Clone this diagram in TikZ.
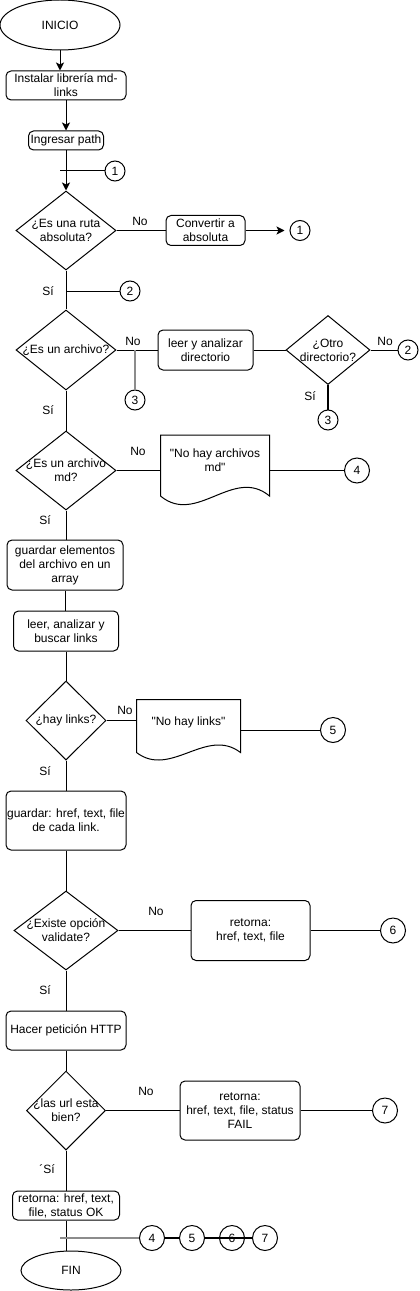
\documentclass[tikz,border=0pt]{standalone}
\usepackage{fontspec}
\setmainfont{Liberation Sans}[Ligatures=TeXOff]
\usepackage{tikz}
\usetikzlibrary{calc,shapes.geometric,arrows.meta}
\def\docwave(#1)(#2:#3:#4){\draw (#1.north west) -- (#1.north east) -- ($(#1.south east)+(0,-#2)$) .. controls ($(#1.south east)+(-#4,-#2-#3)$) and ($(#1.south west)+(#4,-#2+#3)$) .. ($(#1.south west)+(0,-#2)$) -- cycle;}

\begin{document}
\begin{tikzpicture}[x=0.75pt,y=-0.75pt,
		font=\fontsize{9}{10.5}\selectfont,
		line width=0.75pt,
		term/.style={ellipse,draw,inner sep=0pt},
		proc/.style={rectangle,rounded corners=3.75pt,draw,align=center,inner sep=0pt},
		decision/.style={diamond,draw,inner sep=0pt},
		conn/.style={circle,draw,fill=white,inner sep=0pt},
		docbox/.style={rectangle,inner sep=0pt},
		flow/.style={-{Stealth[length=6pt,width=6pt,inset=1.5pt]}},
		greyline/.style={draw=black!45,line width=1.5pt},
		boldline/.style={line width=1.5pt}]
			%%%%% START %%%%%
			
			\useasboundingbox (0,0) rectangle (420,1291);
			
			\node[term, minimum width=90pt, minimum height=37.5pt] (inicio) at (60,25) {INICIO};
			\node[proc, minimum width=90pt, minimum height=21.75pt] (instalar) at (66,85.5) {Instalar librería md-\\links};
			\node[proc, minimum width=56.25pt, minimum height=14.25pt] (ingresar) at (66,140.5) {Ingresar path};
			\coordinate (k1) at (60,171);
			\node[conn, minimum size=15pt] (c1a) at (115,171) {1};
			
			\node[decision, minimum width=75pt, minimum height=59.25pt, label={[align=center]center:¿Es una ruta\\absoluta?}] (q1) at (66,230.5) {};
			\node (no1) at (140,221) {No};
			\node[proc, minimum width=59.25pt, minimum height=22.5pt] (conv) at (205.5,230.5) {Convertir a\\absoluta};
			\node[conn, minimum size=15pt] (c1b) at (300,230.5) {1};
			
			\node (si1) at (48,291) {Sí};
			\coordinate (k2) at (66,291);
			\node[conn, minimum size=15pt] (c2a) at (130,291) {2};
			
			\node[decision, minimum width=75pt, minimum height=60pt, label={[align=center]center:¿Es un archivo?}] (q2) at (66,350) {};
			\node (no2) at (133,341) {No};
			\coordinate (k3) at (135,350);
			\node[conn, minimum size=15pt] (c3a) at (135,400) {3};
			\node[proc, minimum width=71.25pt, minimum height=30pt] (dir) at (205.5,350) {leer y analizar\\directorio};
			\node[decision, minimum width=63pt, minimum height=51.75pt, label={[align=center]center:¿Otro\\directorio?}] (q3) at (328,350) {};
			\node (no3) at (385,341) {No};
			\node[conn, minimum size=15pt] (c2b) at (408,350) {2};
			\node (si3) at (310,396) {Sí};
			\node[conn, minimum size=15pt] (c3b) at (328,420) {3};
			
			\node (si2) at (48,410) {Sí};
			\node[decision, minimum width=75pt, minimum height=59.25pt, label={[align=center]center:¿Es un archivo\\md?}] (q4) at (66,470.5) {};
			\node (no4) at (138,451) {No};
			\node[docbox, minimum width=81pt, minimum height=52.5pt, label={[align=center,yshift=7.5pt]center:"No hay archivos\\md"}] (nodoc) at (215,470.5) {};
			\node[conn, minimum size=18.75pt] (c4a) at (357,470.5) {4};
			
			\node (si4) at (45,520) {Sí};
			\node[proc, minimum width=87pt, minimum height=37.5pt] (guardar) at (65,565) {guardar elementos\\del archivo en un\\array};
			\node[proc, minimum width=78.75pt, minimum height=30pt] (buscar) at (66,631) {leer, analizar y\\buscar links};
			
			\node[decision, minimum width=60pt, minimum height=59.25pt, label={[align=center]center:¿hay links?}] (q5) at (66,720.5) {};
			\node (no5) at (125,710) {No};
			\node[docbox, minimum width=77.25pt, minimum height=45pt, label={[align=center,yshift=6pt]center:"No hay links"}] (linkdoc) at (188.5,730) {};
			\node[conn, minimum size=18.75pt] (c5a) at (333,730) {5};
			
			\node (si5) at (45,771) {Sí};
			\node[proc, minimum width=90pt, minimum height=44.25pt] (guardarlk) at (66,820.5) {guardar: href, text, file\\de cada link.};
			
			\node[decision, minimum width=78pt, minimum height=59.25pt, label={[align=center]center:¿Existe opción\\validate?}] (q6) at (66,930.5) {};
			\node (no6) at (156,911) {No};
			\node[proc, minimum width=89.25pt, minimum height=45pt] (ret1) at (250.5,930.5) {retorna:\\href, text, file};
			\node[conn, minimum size=18.75pt] (c6a) at (393,930.5) {6};
			
			\node (si6) at (45,990) {Sí};
			\node[proc, minimum width=90pt, minimum height=29.25pt] (http) at (66,1030.5) {Hacer petición HTTP};
			
			\node[decision, minimum width=59.25pt, minimum height=59.25pt, label={[align=center]center:¿las url esta\\bien?}] (q7) at (66,1110.5) {};
			\node (no7) at (146,1091) {No};
			\node[proc, minimum width=90pt, minimum height=44.25pt] (ret2) at (240,1110.5) {retorna:\\href, text, file, status\\FAIL};
			\node[conn, minimum size=18.75pt] (c7a) at (385,1110.5) {7};
			
			\node (si7) at (47,1169) {´Sí};
			\node[proc, minimum width=80.25pt, minimum height=21.75pt] (ok) at (66,1205.5) {retorna: href, text,\\file, status OK};
			\coordinate (k4) at (60,1238);
			\node[conn, minimum size=18.75pt] (c4b) at (152,1238) {4};
			\node[conn, minimum size=18.75pt] (c5b) at (192,1238) {5};
			\node[conn, minimum size=18.75pt] (c6b) at (232,1238) {6};
			\node[conn, minimum size=18.75pt] (c7b) at (265,1238) {7};
			\node[term, minimum width=75pt, minimum height=29.25pt] (fin) at (71,1270.5) {FIN};
			
			% documents
			\docwave(nodoc)(10:30:36);
			\docwave(linkdoc)(8:26:34);
			
			% connectors
			\draw[flow] (inicio.south) -- (inicio.south |- instalar.north);
			\draw[flow] (instalar) -- (ingresar);
			\draw[flow] (ingresar) -- (q1);
			\draw (k1) -- (c1a);
			\draw (q1) -- (conv);
			\draw[flow, shorten >=3.75pt] (conv) -- (c1b);
			
			\draw (q1) -- (q2);
			\draw (k2) -- (c2a);
			\draw (q2) -- (dir);
			\draw[greyline] (k3) -- (c3a);
			\draw (dir) -- (q3);
			\draw (q3) -- (c2b);
			\draw[boldline] (q3) -- (c3b);
			
			\draw (q2) -- (q4);
			\draw (q4) -- (nodoc);
			\draw (nodoc) -- (c4a);
			\draw (q4.south) -- (q4.south |- guardar.north);
			\draw (guardar.south) -- (guardar.south |- buscar.north);
			\draw (buscar) -- (q5);
			
			\draw (q5.east) -- (q5.east -| linkdoc.west);
			\draw (linkdoc) -- (c5a);
			\draw (q5) -- (guardarlk);
			\draw (guardarlk) -- (q6);
			\draw (q6) -- (ret1);
			\draw (ret1) -- (c6a);
			
			\draw (q6) -- (http);
			\draw (http) -- (q7);
			\draw (q7) -- (ret2);
			\draw (ret2) -- (c7a);
			\draw (q7) -- (ok);
			\draw (ok) -- (ok |- fin.north);
			\draw[greyline] (k4) -- (c4b);
			\draw[boldline] (c4b) -- (c5b);
			\draw[boldline] (c5b) -- (c7b);
			
			%%%%% END %%%%%
\end{tikzpicture}
\end{document}
